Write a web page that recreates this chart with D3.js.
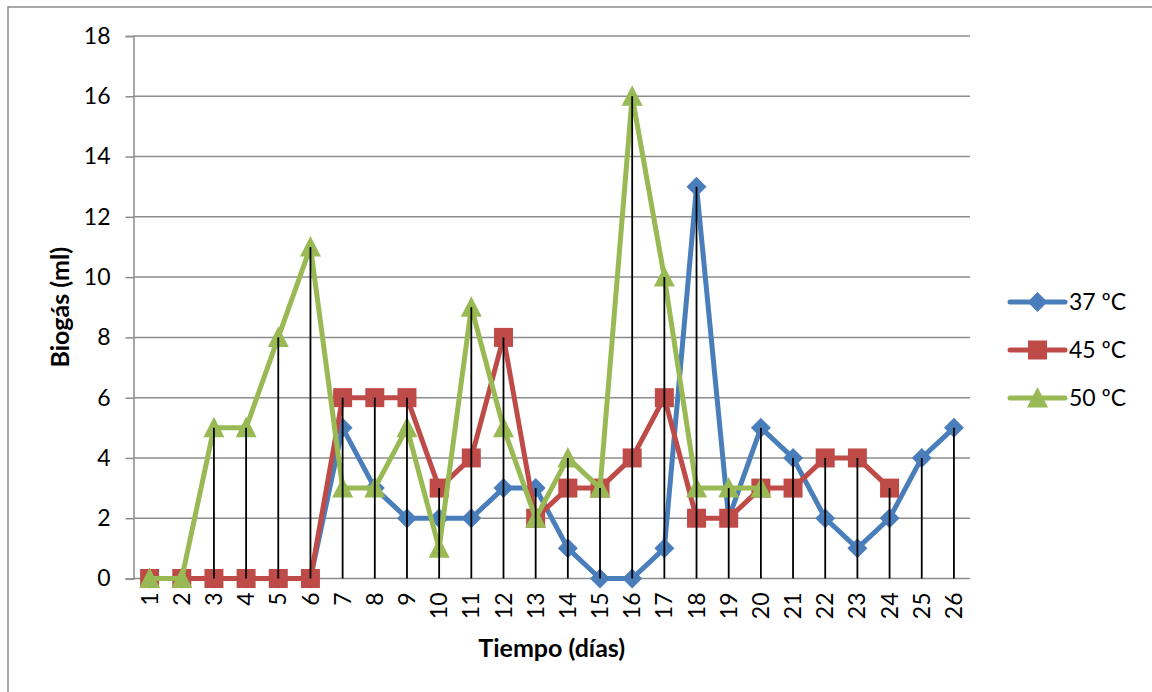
<!DOCTYPE html>
<html>
<head>
<meta charset="utf-8">
<script src="https://cdn.jsdelivr.net/npm/d3@7"></script>
<style>
    body { margin: 0; background: #ffffff; }
    svg text { font-family: Lato, "Open Sans", sans-serif; fill: #000000; }
</style>
</head>
<body>
<div id="chart"></div>
<script>
// 数据
const days = ['1','2','3','4','5','6','7','8','9','10','11','12','13','14','15','16','17','18','19','20','21','22','23','24','25','26'];
const s37 = [0,0,0,0,0,0,5,3,2,2,2,3,3,1,0,0,1,13,2,5,4,2,1,2,4,5];
const s45 = [0,0,0,0,0,0,6,6,6,3,4,8,2,3,3,4,6,2,2,3,3,4,4,3];
const s50 = [0,0,5,5,8,11,3,3,5,1,9,5,2,4,3,16,10,3,3,3];
const yTicks = [0,2,4,6,8,10,12,14,16,18];
const seriesNames = ['37 ºC','45 ºC','50 ºC'];

const series = [
    { name: seriesNames[0], values: s37, color: '#4A7EBB', marker: 'diamond' },
    { name: seriesNames[1], values: s45, color: '#BE4B48', marker: 'square' },
    { name: seriesNames[2], values: s50, color: '#98B954', marker: 'triangle' }
];

const width = 1152, height = 692;
const plot = { left: 133.5, right: 970, top: 36, bottom: 578.5 };

const svg = d3.select('#chart')
    .append('svg')
    .attr('width', width)
    .attr('height', height);

// 外框
svg.append('rect')
    .attr('x', 8).attr('y', 7)
    .attr('width', width + 10).attr('height', height + 10)
    .attr('fill', 'none')
    .attr('stroke', '#8c8c8c')
    .attr('stroke-width', 1.5);

// 比例尺
const xScale = d3.scaleBand()
    .domain(days)
    .range([plot.left, plot.right])
    .padding(0);
const xc = d => xScale(d) + xScale.bandwidth() / 2;

const yScale = d3.scaleLinear()
    .domain([0, 18])
    .range([plot.bottom, plot.top]);

// 网格线
svg.append('g')
    .selectAll('line')
    .data(yTicks)
    .enter()
    .append('line')
    .attr('x1', plot.left).attr('x2', plot.right)
    .attr('y1', d => yScale(d)).attr('y2', d => yScale(d))
    .attr('stroke', '#8c8c8c')
    .attr('stroke-width', 1.5);

// Y轴
const yAxis = svg.append('g')
    .attr('transform', `translate(${plot.left},0)`)
    .call(d3.axisLeft(yScale).tickValues(yTicks).tickSize(8).tickPadding(15));
yAxis.select('.domain').attr('stroke', '#8c8c8c').attr('stroke-width', 1.5);
yAxis.selectAll('.tick line').attr('stroke', '#8c8c8c').attr('stroke-width', 1.5);
yAxis.selectAll('.tick text').style('font-size', '23px');

// X轴
const xAxis = svg.append('g')
    .attr('transform', `translate(0,${plot.bottom})`)
    .call(d3.axisBottom(xScale).tickSize(0).tickPadding(0));
xAxis.select('.domain').remove();
xAxis.selectAll('.tick text')
    .attr('transform', 'rotate(-90)')
    .attr('x', -14)
    .attr('y', 0)
    .attr('dy', '0.35em')
    .attr('text-anchor', 'end')
    .style('font-size', '23px');

// 线
const line = d3.line()
    .x((v, i) => xc(days[i]))
    .y(v => yScale(v));

const markerPath = (type) => {
    if (type === 'diamond') return 'M0,-10L10,0L0,10L-10,0Z';
    if (type === 'square') return 'M-9.5,-9.5H9.5V9.5H-9.5Z';
    return 'M0,-11L10.5,9.5H-10.5Z';
};

series.forEach(s => {
    const g = svg.append('g');
    g.append('path')
        .datum(s.values)
        .attr('d', line)
        .attr('fill', 'none')
        .attr('stroke', s.color)
        .attr('stroke-width', 5)
        .attr('stroke-linejoin', 'round');
    g.selectAll('path.mk')
        .data(s.values)
        .enter()
        .append('path')
        .attr('class', 'mk')
        .attr('d', markerPath(s.marker))
        .attr('transform', (v, i) => `translate(${xc(days[i])},${yScale(v)})`)
        .attr('fill', s.color);
});

// 垂直线
svg.append('g')
    .selectAll('line')
    .data(days)
    .enter()
    .append('line')
    .attr('x1', d => xc(d)).attr('x2', d => xc(d))
    .attr('y1', (d, i) => yScale(d3.max(series, s => s.values[i] ?? 0)))
    .attr('y2', plot.bottom)
    .attr('stroke', '#000000')
    .attr('stroke-width', 1.8);

// 图例
const legend = svg.append('g');
series.forEach((s, i) => {
    const y = 302 + i * 48;
    legend.append('line')
        .attr('x1', 1010).attr('x2', 1065)
        .attr('y1', y).attr('y2', y)
        .attr('stroke', s.color)
        .attr('stroke-width', 5)
        .attr('stroke-linecap', 'round');
    legend.append('path')
        .attr('d', markerPath(s.marker))
        .attr('transform', `translate(1037.5,${y})`)
        .attr('fill', s.color);
    legend.append('text')
        .attr('x', 1069)
        .attr('y', y)
        .attr('dy', '0.35em')
        .style('font-size', '23px')
        .text(s.name);
});

// 轴标题
svg.append('text')
    .attr('transform', `translate(69,${(plot.top + plot.bottom) / 2}) rotate(-90)`)
    .attr('text-anchor', 'middle')
    .style('font-size', '25px')
    .style('font-weight', 'bold')
    .text('Biogás (ml)');

svg.append('text')
    .attr('x', (plot.left + plot.right) / 2)
    .attr('y', 657)
    .attr('text-anchor', 'middle')
    .style('font-size', '25px')
    .style('font-weight', 'bold')
    .text('Tiempo (días)');
</script>
</body>
</html>
